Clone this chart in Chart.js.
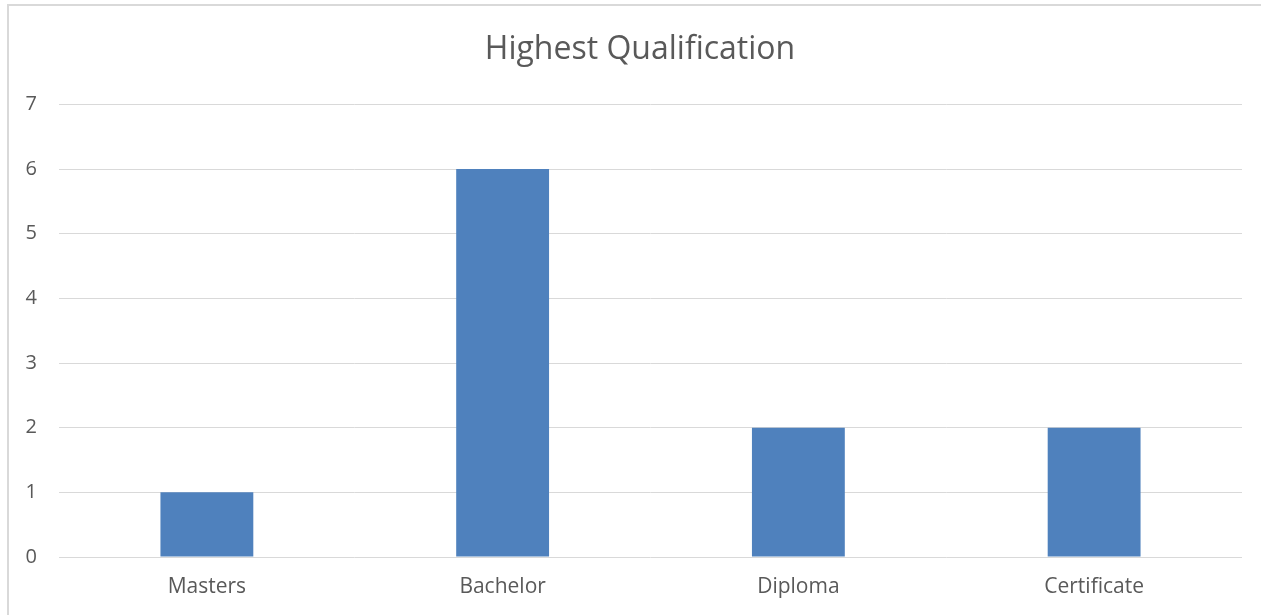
<!DOCTYPE html>
<html>
<head>
<meta charset="utf-8">
<script src="https://cdn.jsdelivr.net/npm/chart.js@4.4.1/dist/chart.umd.min.js"></script>
<style>
  html, body { margin: 0; padding: 0; background: #fff; }
  #frame { position: absolute; left: 7px; top: 4px; width: 1254px; height: 611px;
           border-left: 2px solid #D9D9D9; border-top: 2px solid #D9D9D9; box-sizing: border-box; }
  #wrap { position: absolute; left: 0; top: 0; width: 1261px; height: 615px; }
</style>
</head>
<body>
<div id="frame"></div>
<div id="wrap"><canvas id="chart"></canvas></div>
<script>
// qualification counts
const categories = ['Masters', 'Bachelor', 'Diploma', 'Certificate'];
const counts = [1, 6, 2, 2];
const yTicks = [0, 1, 2, 3, 4, 5, 6, 7];

const textColour = '#595959';
const gridColour = '#D9D9D9';
const fontFamily = "'Open Sans', 'Noto Sans', sans-serif";

// nudge the title so it sits centred on the framed box rather than the canvas
const titleShift = {
  id: 'titleShift',
  afterLayout(chart) {
    const t = chart.titleBlock;
    if (t) { t.left += 19; t.right += 19; }
  }
};

new Chart(document.getElementById('chart'), {
  type: 'bar',
  data: {
    labels: categories,
    datasets: [{
      data: counts,
      backgroundColor: '#4F81BD',
      borderWidth: 0,
      barPercentage: 0.314,
      categoryPercentage: 1
    }]
  },
  plugins: [titleShift],
  options: {
    responsive: true,
    maintainAspectRatio: false,
    animation: false,
    layout: { padding: { left: 0, right: 19, top: 0, bottom: 0 } },
    plugins: {
      legend: { display: false },
      tooltip: { enabled: false },
      title: {
        display: true,
        text: 'Highest Qualification',
        color: textColour,
        font: { family: fontFamily, size: 32, weight: 'normal', lineHeight: 1.2 },
        padding: { top: 31, bottom: 35 }
      }
    },
    scales: {
      x: {
        grid: { display: false, drawTicks: false },
        border: { display: false },
        ticks: { color: textColour, font: { family: fontFamily, size: 21 }, padding: 17 },
        afterFit: s => { s.height = 58; }
      },
      y: {
        min: 0,
        max: 7,
        afterBuildTicks: s => { s.ticks = yTicks.map(v => ({ value: v })); },
        grid: { color: gridColour, lineWidth: 1, drawTicks: false },
        border: { display: false },
        ticks: { color: textColour, font: { family: fontFamily, size: 20 }, padding: 22 },
        afterFit: s => { s.width = 59; }
      }
    }
  }
});
</script>
</body>
</html>
